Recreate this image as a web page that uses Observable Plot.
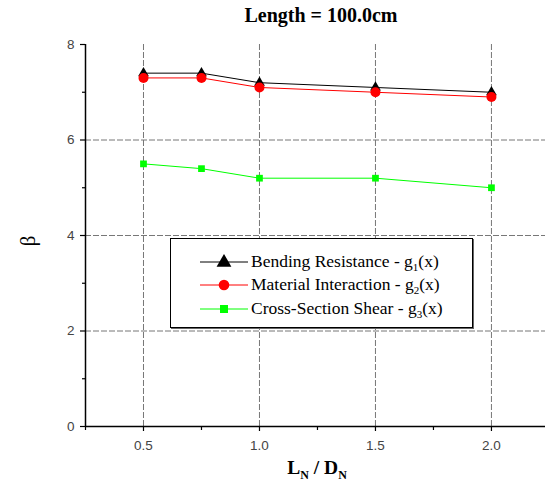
<!DOCTYPE html>
<html><head><meta charset="utf-8">
<script src="https://cdn.jsdelivr.net/npm/d3@7"></script>
<script src="https://cdn.jsdelivr.net/npm/@observablehq/plot@0.6"></script>
<style>
body{margin:0;background:#fff;}
#wrap{position:relative;width:545px;height:490px;overflow:hidden;}
#wrap svg{position:absolute;left:0;top:0;}
.title{position:absolute;left:91px;width:460px;top:4px;text-align:center;font:bold 20px "Liberation Serif","Times New Roman",serif;color:#000;}
.xlab{position:absolute;left:87px;width:460px;top:457px;text-align:center;font:bold 19.5px "Liberation Serif","Times New Roman",serif;color:#000;}
.xlab sub{font-size:12px;vertical-align:-5px;line-height:0;}
.ylab{position:absolute;left:15px;top:228px;width:26px;height:26px;text-align:center;font:21px "Liberation Serif","Times New Roman",serif;transform:rotate(-90deg);line-height:26px;}
.legend{position:absolute;left:170px;top:238px;width:301px;height:88px;border:1px solid #000;background:#fff;box-shadow:1px 1px 0 #666;}
.row{position:absolute;left:29px;height:20px;font:17.5px "Liberation Serif","Times New Roman",serif;white-space:nowrap;}
.row svg{position:static !important;vertical-align:middle;}
.row span{vertical-align:middle;margin-left:3px;}
.row sub{font-size:11px;vertical-align:-4px;line-height:0;}
</style></head><body><div id="wrap"></div>
<script>
const titleText = "Length = 100.0cm";
const xValues = [0.5, 0.75, 1.0, 1.5, 2.0];
const bending = [7.4, 7.4, 7.2, 7.1, 7.0];
const material = [7.3, 7.3, 7.1, 7.0, 6.9];
const shear = [5.5, 5.4, 5.2, 5.2, 5.0];
const seriesNames = ["Bending Resistance - g", "Material Interaction - g", "Cross-Section Shear - g"];
const seriesSubs = ["1", "2", "3"];
const seriesColors = ["#000000", "#ff0000", "#00ff00"];
const seriesSymbols = ["triangle", "circle", "square"];
const xTicks = [0.5, 1.0, 1.5, 2.0];
const xMinorTicks = [0.25, 0.75, 1.25, 1.75];
const yTicks = [0, 2, 4, 6, 8];
const yMinorTicks = [1, 3, 5, 7];
const yGrid = [2, 4, 6];

const data = xValues.map((x, i) => ({x, bending: bending[i], material: material[i], shear: shear[i]}));
const keys = ["bending", "material", "shear"];
const sizes = [4, 5, 3.8];

const marks = [
  Plot.gridX(xTicks, {stroke: "#777", strokeOpacity: 1, strokeDasharray: "6,2", strokeWidth: 1}),
  Plot.gridY(yGrid, {stroke: "#777", strokeOpacity: 1, strokeDasharray: "6,2", strokeWidth: 1}),
  Plot.ruleY([0], {stroke: "#000", strokeWidth: 1.5}),
  Plot.ruleX([0.25], {stroke: "#000", strokeWidth: 1.5}),
  Plot.axisX(xTicks, {tickSize: 5, stroke: "#000", strokeWidth: 1.2, text: null, label: null}),
  Plot.axisX(xMinorTicks, {tickSize: 4, stroke: "#000", strokeWidth: 1.2, text: null, label: null}),
  Plot.axisX(xTicks, {tickSize: 0, tickPadding: 14, tickFormat: d3.format(".1f"), fill: "#444", fontSize: 13.5, label: null}),
  Plot.axisY(yTicks, {tickSize: 5, stroke: "#000", strokeWidth: 1.2, text: null, label: null}),
  Plot.axisY(yMinorTicks, {tickSize: 3, stroke: "#000", strokeWidth: 1.2, text: null, label: null}),
  Plot.axisY(yTicks, {tickSize: 0, tickPadding: 11, fill: "#444", fontSize: 13.5, label: null}),
];
keys.forEach((k, i) => {
  marks.push(Plot.line(data, {x: "x", y: k, stroke: seriesColors[i], strokeWidth: 1}));
});
keys.forEach((k, i) => {
  marks.push(Plot.dot(data, {x: "x", y: k, symbol: seriesSymbols[i], fill: seriesColors[i], stroke: "none", r: sizes[i]}));
});

const chart = Plot.plot({
  width: 545, height: 490,
  marginTop: 44, marginBottom: 64, marginLeft: 85, marginRight: 0,
  x: {domain: [0.25, 2.233]},
  y: {domain: [0, 8]},
  style: {fontFamily: "'Liberation Sans', Arial, sans-serif", fontSize: "13px", background: "transparent"},
  marks
});

const wrap = document.getElementById("wrap");
wrap.appendChild(chart);

const t = document.createElement("div"); t.className = "title"; t.textContent = titleText; wrap.appendChild(t);
const xl = document.createElement("div"); xl.className = "xlab"; xl.innerHTML = "L<sub>N</sub> / D<sub>N</sub>"; wrap.appendChild(xl);
const yl = document.createElement("div"); yl.className = "ylab"; yl.textContent = "β"; wrap.appendChild(yl);

const lg = document.createElement("div"); lg.className = "legend"; wrap.appendChild(lg);
const rowTops = [11, 34, 58];
seriesNames.forEach((name, i) => {
  const row = document.createElement("div"); row.className = "row"; row.style.top = rowTops[i] + "px";
  const sw = d3.create("svg").attr("width", 48).attr("height", 16);
  sw.append("line").attr("x1", 0).attr("x2", 48).attr("y1", 8).attr("y2", 8).attr("stroke", seriesColors[i]).attr("stroke-width", 1);
  const sym = {triangle: d3.symbolTriangle, circle: d3.symbolCircle, square: d3.symbolSquare}[seriesSymbols[i]];
  const rr = [5.5, 5.3, 4.5][i];
  sw.append("path").attr("d", d3.symbol(sym, rr * rr * Math.PI)()).attr("transform", `translate(24,${i === 0 ? 8.5 : 8})`).attr("fill", seriesColors[i]);
  row.appendChild(sw.node());
  const sp = document.createElement("span");
  sp.innerHTML = name + "<sub>" + seriesSubs[i] + "</sub>(x)";
  row.appendChild(sp);
  lg.appendChild(row);
});
</script>
</body></html>
